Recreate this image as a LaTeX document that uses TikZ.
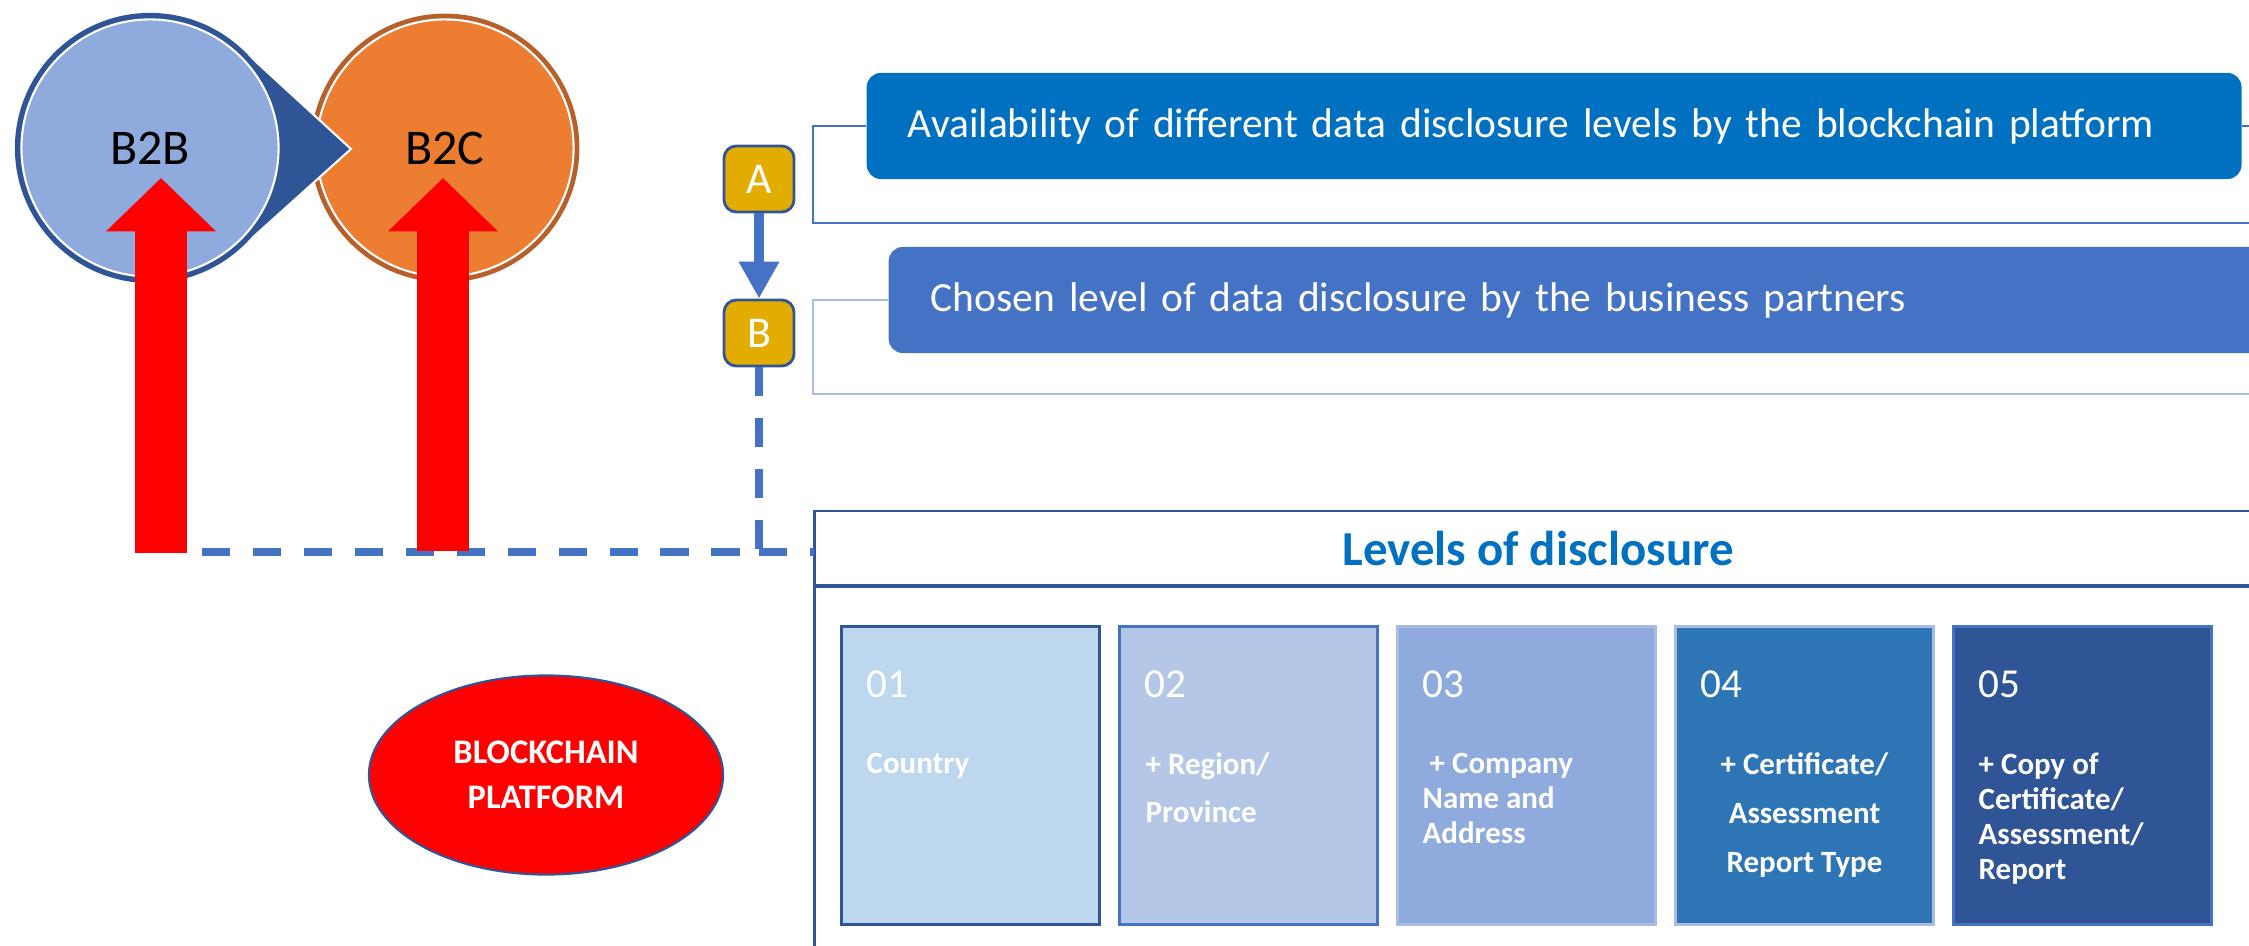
\documentclass[tikz,border=0pt]{standalone}
\usepackage{fontspec}
\setmainfont{Carlito}
\usetikzlibrary{arrows.meta,calc,positioning,shapes.geometric}
\definecolor{darkblue}{HTML}{2F5597}
\definecolor{accent}{HTML}{4472C4}
\definecolor{boxblue}{HTML}{0070C0}
\definecolor{gold}{HTML}{E2AC00}
\definecolor{orng}{HTML}{ED7D31}
\definecolor{brwn}{HTML}{B8602A}
\definecolor{lvlone}{HTML}{BDD7EE}
\definecolor{lvltwo}{HTML}{B4C7E7}
\definecolor{lvlthree}{HTML}{8FAADC}
\definecolor{lvlfour}{HTML}{2E75B6}
\definecolor{lvlfive}{HTML}{2F5597}
\definecolor{pale}{HTML}{A9BCE3}

\begin{document}
\begin{tikzpicture}[x=0.01cm,y=-0.01cm,
  bubble/.style={circle,minimum size=2.63cm,inner sep=0pt,font=\fontsize{14.2}{17}\selectfont},
  letterbox/.style={rounded corners=3.5pt,fill=gold,draw=darkblue,line width=0.8pt,text=white,
    minimum width=0.7cm,minimum height=0.66cm,inner sep=0pt,font=\fontsize{12.5}{15}\selectfont},
  bar/.style={rounded corners=4pt,text=white,anchor=west,minimum height=1.06cm,inner ysep=0pt,
    text width=12.92cm,align=left,font=\fontsize{11.8}{14}\selectfont},
  redarrow/.style={red,line width=15pt,-{Triangle[width=30.4pt,length=15.2pt]}},
  stepline/.style={accent,line width=3.1pt,-{Triangle[width=10.8pt,length=10.5pt]}},
  linkdash/.style={accent,line width=2pt,dash pattern=on 8pt off 6.5pt},
  lvlbox/.style={anchor=north west,minimum width=2.58cm,minimum height=2.98cm,line width=0.8pt},
  lvlnum/.style={anchor=north west,inner sep=0pt,text=white,font=\fontsize{11.7}{14}\selectfont},
  lvltext/.style={anchor=north west,inner sep=0pt,text=white,align=left,font=\bfseries\fontsize{8.8}{10}\selectfont},
  platform/.style={ellipse,fill=red,draw=darkblue,line width=0.6pt,minimum width=3.54cm,minimum height=1.99cm,
    text=white,align=center,font=\bfseries\fontsize{9.8}{12.8}\selectfont}]
\useasboundingbox (0,0) rectangle (2249,946);

% B2B / B2C
\node[bubble,fill=orng,draw=brwn,line width=1.6pt] (b2c) at (445,148) {B2C};
\draw[white,line width=0.6pt] (b2c.center) circle (1.285cm);
\filldraw[fill=darkblue,draw=white,line width=0.6pt] (241,48) -- (351,149) -- (241,248);
\node[bubble,fill=lvlthree,draw=darkblue,line width=2pt] (b2b) at (150,148) {B2B};
\draw[white,line width=0.6pt] (b2b.center) circle (1.285cm);

% steps
\node[letterbox] (A) at (759,179) {A};
\node[letterbox] (B) at (759,333) {B};
\draw[stepline] (A) -- (B);

\node[bar,fill=boxblue,inner xsep=0.41cm] (barA) at (866,126) {Availability of different data disclosure levels by the blockchain platform};
\node[bar,fill=accent,inner xsep=0.42cm] (barB) at (888,300) {Chosen level of data disclosure by the business partners};
\draw[accent,line width=0.8pt] (barA.west) -| ++(-53,97) -- ++(1460,0);
\draw[accent,line width=0.8pt] (barA.east) -- ++(20,0);
\draw[pale,line width=0.8pt] (barB.west) -| ++(-75,94) -- ++(1470,0);

% levels of disclosure
\draw[darkblue,line width=0.85pt] (814,960) -- (814,511) -- (2260,511);
\draw[darkblue,line width=1.2pt] (814,586) -- (2260,586);
\node[text=boxblue,font=\bfseries\fontsize{13.9}{16}\selectfont] (title) at (1538,549) {Levels of disclosure};
\coordinate (hdrwest) at (814,552);

\foreach \i/\c/\d/\n in {1/lvlone/darkblue/01,2/lvltwo/accent/02,3/lvlthree/pale/03,4/lvlfour/pale/04,5/lvlfive/accent/05}{
  \node[lvlbox,fill=\c,draw=\d] (lv\i) at ({840+(\i-1)*278},625) {};
  \node[lvlnum] (num\i) at ($(lv\i.north west)+(26,45)$) {\n};
}
\node[lvltext] (txt1) at ($(lv1.north west)+(26,127)$) {Country};
\node[lvltext,font=\bfseries\fontsize{8.8}{13.7}\selectfont] (txt2) at ($(lv2.north west)+(27,127)$) {+ Region/\\Province};
\node[lvltext] (txt3) at ($(lv3.north west)+(26,127)$) {\ + Company\\Name and\\Address};
\node[lvltext,anchor=north,align=center,font=\bfseries\fontsize{8.8}{13.9}\selectfont] (txt4) at ($(lv4.north)+(0,127)$) {+ Certificate/\\Assessment\\Report Type};
\node[lvltext] (txt5) at ($(lv5.north west)+(26,127)$) {+ Copy of\\Certificate/\\Assessment/\\Report};

\node[platform] (chain) at (546,775) {BLOCKCHAIN\\PLATFORM};

% links
\coordinate (b2bfoot) at (161,553);
\coordinate (b2cfoot) at (443,551);
\coordinate (dashend) at (187,552);
\draw[linkdash] (B.south) |- (dashend);
\draw[linkdash] (B.south |- hdrwest) -- (hdrwest);
\draw[redarrow] (b2bfoot) -- (161,178);
\draw[redarrow] (b2cfoot) -- (443,178);
\end{tikzpicture}
\end{document}
